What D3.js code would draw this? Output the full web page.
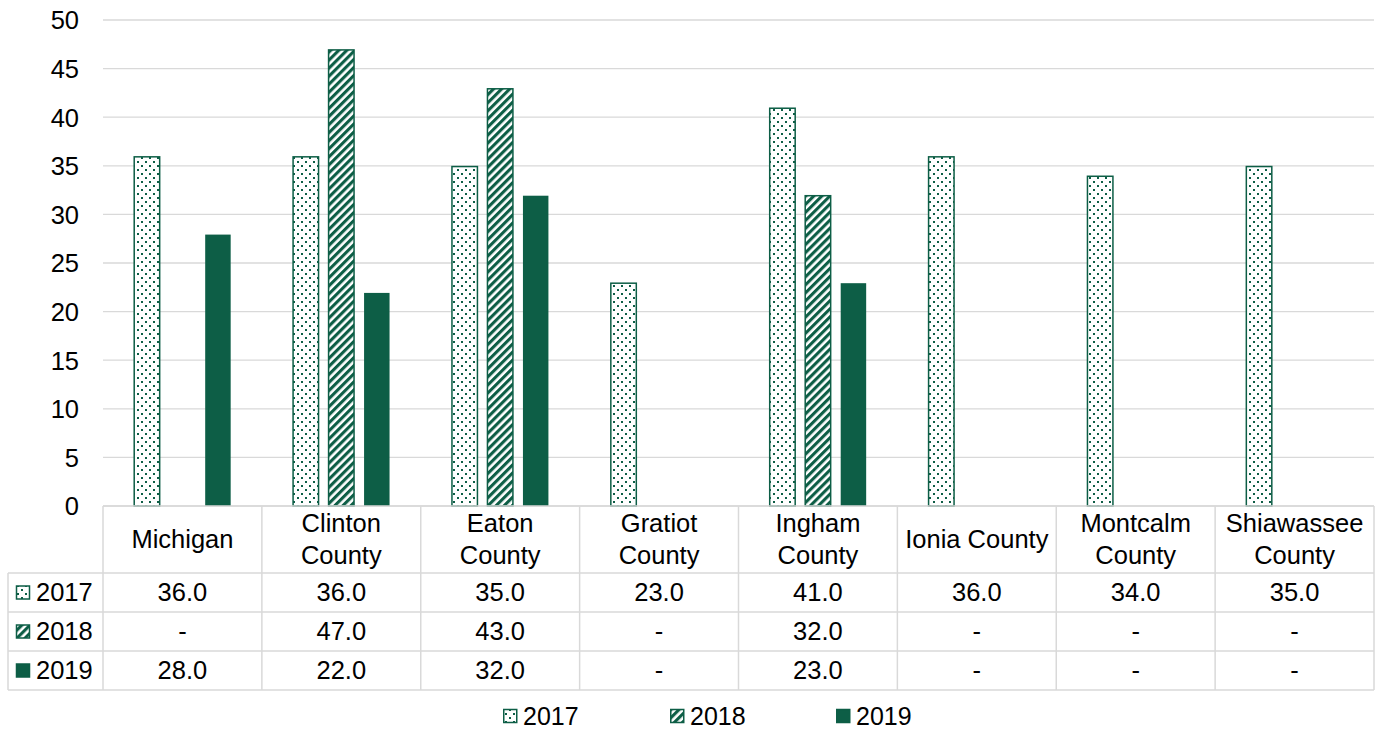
<!DOCTYPE html>
<html><head><meta charset="utf-8">
<script src="https://cdn.jsdelivr.net/npm/d3@7/dist/d3.min.js"></script>
<style>
html,body{margin:0;padding:0;background:#fff;}
svg{display:block;font-family:"Liberation Sans",Arial,sans-serif;}
</style></head>
<body>
<svg id="chart" width="1377" height="730"></svg>
<script>
const categories = ["Michigan","Clinton County","Eaton County","Gratiot County","Ingham County","Ionia County","Montcalm County","Shiawassee County"];
const categoryLines = [["Michigan"],["Clinton","County"],["Eaton","County"],["Gratiot","County"],["Ingham","County"],["Ionia County"],["Montcalm","County"],["Shiawassee","County"]];
const seriesNames = ["2017","2018","2019"];
const values2017 = [36,36,35,23,41,36,34,35];
const values2018 = [null,47,43,null,32,null,null,null];
const values2019 = [28,22,32,null,23,null,null,null];
const yTicks = [0,5,10,15,20,25,30,35,40,45,50];

(function(){
const seriesValues = [values2017, values2018, values2019];
const GREEN = "#0d5e46";
const GRID = "#d9d9d9";
const FS = 25.5;

const svg = d3.select("#chart");
const defs = svg.append("defs");
const pd = defs.append("pattern").attr("id","dots").attr("patternUnits","userSpaceOnUse").attr("width",8).attr("height",8);
pd.append("rect").attr("width",8).attr("height",8).attr("fill","#fff");
pd.append("rect").attr("x",1).attr("y",1).attr("width",2).attr("height",2).attr("fill",GREEN);
pd.append("rect").attr("x",5).attr("y",5).attr("width",2).attr("height",2).attr("fill",GREEN);
const ph = defs.append("pattern").attr("id","hatch").attr("patternUnits","userSpaceOnUse").attr("width",5.7).attr("height",5.7).attr("patternTransform","rotate(45)");
ph.append("rect").attr("width",5.7).attr("height",5.7).attr("fill","#fff");
ph.append("rect").attr("x",0).attr("y",0).attr("width",3.1).attr("height",5.7).attr("fill",GREEN);
const fills = ["url(#dots)","url(#hatch)",GREEN];

const pLeft = 103, pRight = 1374, pTop = 20, base = 506;
const x = d3.scaleBand().domain(categories).range([pLeft,pRight]).padding(0);
const xs = d3.scaleBand().domain(seriesNames).range([0,x.bandwidth()]).paddingInner(0.24).paddingOuter(0.858);
const y = d3.scaleLinear().domain([0,50]).range([base,pTop]);

svg.append("g").selectAll("line").data(yTicks).join("line")
  .attr("x1",pLeft).attr("x2",pRight).attr("y1",d=>y(d)).attr("y2",d=>y(d))
  .attr("stroke",GRID).attr("stroke-width",1.3);

const yAxis = d3.axisLeft(y).tickValues(yTicks).tickSize(0).tickPadding(0);
const ya = svg.append("g").attr("transform","translate(79,0)").call(yAxis);
ya.select(".domain").remove();
ya.selectAll("text").attr("font-size",FS).attr("fill","#000").attr("font-family","Liberation Sans, Arial, sans-serif").attr("dy","0.35em");

seriesNames.forEach((s,si)=>{
  svg.append("g").selectAll("rect").data(categories.map((c,i)=>({c,v:seriesValues[si][i]})).filter(d=>d.v!=null)).join("rect")
    .attr("x",d=>x(d.c)+xs(s)+0.75).attr("width",xs.bandwidth()-1.5)
    .attr("y",d=>y(d.v)+0.75).attr("height",d=>base-y(d.v)-0.75)
    .attr("fill",fills[si]).attr("stroke",GREEN).attr("stroke-width",si===2?0:1.5);
});

const rowTops = [573,612,651,690];
const tg = svg.append("g");
tg.append("line").attr("x1",pLeft).attr("x2",pRight).attr("y1",base).attr("y2",base).attr("stroke",GRID).attr("stroke-width",1.5);
const bounds = categories.map(c=>x(c)).concat([pRight]);
tg.selectAll("line.v").data(bounds).join("line").attr("class","v")
  .attr("x1",d=>d).attr("x2",d=>d).attr("y1",base).attr("y2",690).attr("stroke",GRID).attr("stroke-width",1.5);
tg.append("line").attr("x1",8).attr("x2",8).attr("y1",573).attr("y2",690).attr("stroke",GRID).attr("stroke-width",1.5);
tg.selectAll("line.h").data(rowTops).join("line").attr("class","h")
  .attr("x1",8).attr("x2",pRight).attr("y1",d=>d).attr("y2",d=>d).attr("stroke",GRID).attr("stroke-width",1.5);

categories.forEach((c,i)=>{
  const lines = categoryLines[i];
  const cx = x(c)+x.bandwidth()/2;
  const cy = (base+573)/2;
  const lh = 32;
  lines.forEach((ln,li)=>{
    svg.append("text").attr("x",cx).attr("y",cy+(li-(lines.length-1)/2)*lh).attr("dy","0.35em")
      .attr("text-anchor","middle").attr("font-size",FS).attr("fill","#000").text(ln);
  });
});

seriesNames.forEach((s,si)=>{
  const cy = (rowTops[si]+rowTops[si+1])/2;
  svg.append("rect").attr("x",16.5).attr("y",cy-6.5).attr("width",13).attr("height",13)
    .attr("fill",fills[si]).attr("stroke",GREEN).attr("stroke-width",1.5);
  svg.append("text").attr("x",36).attr("y",cy).attr("dy","0.35em").attr("font-size",FS).attr("fill","#000").text(s);
  categories.forEach((c,i)=>{
    const v = seriesValues[si][i];
    svg.append("text").attr("x",x(c)+x.bandwidth()/2).attr("y",cy).attr("dy","0.35em")
      .attr("text-anchor","middle").attr("font-size",FS).attr("fill","#000")
      .text(v==null?"-":d3.format(".1f")(v));
  });
});

const legendX = [503,670,836];
seriesNames.forEach((s,si)=>{
  const lx = legendX[si], cy = 716;
  svg.append("rect").attr("x",lx+0.75).attr("y",cy-6.5).attr("width",13).attr("height",13)
    .attr("fill",fills[si]).attr("stroke",GREEN).attr("stroke-width",1.5);
  svg.append("text").attr("x",lx+20).attr("y",cy).attr("dy","0.35em").attr("font-size",25).attr("fill","#000").text(s);
});
})();
</script>
</body></html>
